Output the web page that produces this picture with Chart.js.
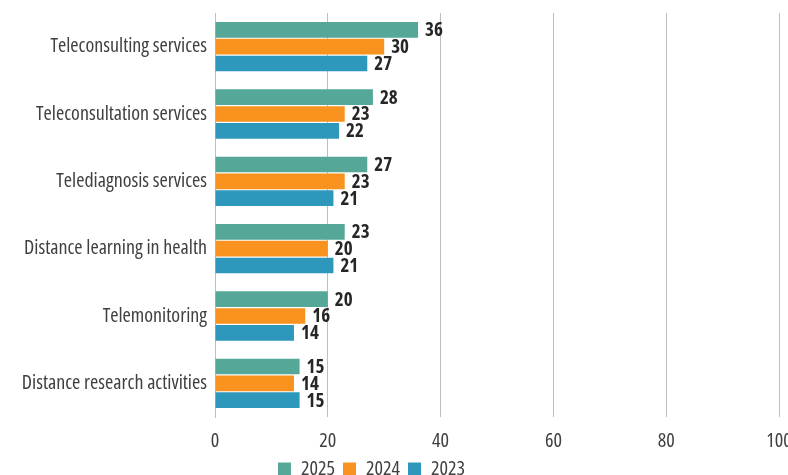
<!DOCTYPE html>
<html>
<head>
<meta charset="utf-8">
<style>
  html, body { margin: 0; padding: 0; background: #fff; }
  #wrap { width: 788px; height: 475px; }
</style>
</head>
<body>
<div id="wrap"><canvas id="telehealthChart"></canvas></div>

<script src="https://cdn.jsdelivr.net/npm/chart.js"></script>
<script>
    const categories = [
        "Teleconsulting services",
        "Teleconsultation services",
        "Telediagnosis services",
        "Distance learning in health",
        "Telemonitoring",
        "Distance research activities"
    ];
    const values2025 = [36, 28, 27, 23, 20, 15];
    const values2024 = [30, 23, 23, 20, 16, 14];
    const values2023 = [27, 22, 21, 21, 14, 15];
    const xTicks = [0, 20, 40, 60, 80, 100];

    const FONT = "'Open Sans', sans-serif";
    // narrow face of Open Sans, passed through the weight slot of the font string
    const NARROW = "semi-condensed";

    // value labels at the end of each bar
    const barValueLabels = {
        id: "barValueLabels",
        afterDatasetsDraw(chart) {
            const ctx = chart.ctx;
            ctx.save();
            ctx.font = "semi-condensed bold 19px " + FONT;
            ctx.fillStyle = "#262626";
            ctx.textAlign = "left";
            ctx.textBaseline = "middle";
            chart.data.datasets.forEach((ds, i) => {
                chart.getDatasetMeta(i).data.forEach((bar, j) => {
                    ctx.fillText(ds.data[j], bar.x + 7, bar.y + 1);
                });
            });
            ctx.restore();
        }
    };

    // move the legend a little left and up
    const legendShift = {
        id: "legendShift",
        afterLayout(chart) {
            const lg = chart.legend;
            lg.left -= 18;
            lg.right -= 18;
            lg.top -= 14;
            lg.bottom -= 14;
        }
    };

    new Chart(document.getElementById("telehealthChart"), {
        type: "bar",
        data: {
            labels: categories,
            datasets: [
                { label: "2025", data: values2025, backgroundColor: "#55A898" },
                { label: "2024", data: values2024, backgroundColor: "#F7931E" },
                { label: "2023", data: values2023, backgroundColor: "#2E97BC" }
            ]
        },
        options: {
            indexAxis: "y",
            responsive: true,
            maintainAspectRatio: false,
            animation: false,
            layout: { padding: { top: 13, right: 9, left: 0, bottom: -28 } },
            datasets: {
                bar: { categoryPercentage: 0.75, barPercentage: 0.93 }
            },
            scales: {
                x: {
                    min: 0,
                    max: 100,
                    afterBuildTicks: s => { s.ticks = xTicks.map(v => ({ value: v })); },
                    afterFit: s => { s.paddingRight = 0; },
                    grid: { color: "#BFBFBF", lineWidth: 1, drawTicks: false },
                    border: { display: false },
                    ticks: {
                        color: "#404040",
                        padding: 12,
                        font: { family: FONT, size: 20, weight: NARROW }
                    }
                },
                y: {
                    afterFit: s => { s.width = 215; s.paddingTop = 0; s.paddingBottom = 0; },
                    grid: { display: false, drawTicks: false },
                    border: { display: true, color: "#BFBFBF", width: 1 },
                    ticks: {
                        color: "#404040",
                        padding: 8,
                        font: { family: FONT, size: 20, weight: NARROW }
                    }
                }
            },
            plugins: {
                legend: {
                    position: "bottom",
                    labels: {
                        boxWidth: 13,
                        boxHeight: 13,
                        padding: 8,
                        color: "#404040",
                        font: { family: FONT, size: 20, weight: NARROW }
                    }
                },
                tooltip: { enabled: false }
            }
        },
        plugins: [barValueLabels, legendShift]
    });
</script>
</body>
</html>
